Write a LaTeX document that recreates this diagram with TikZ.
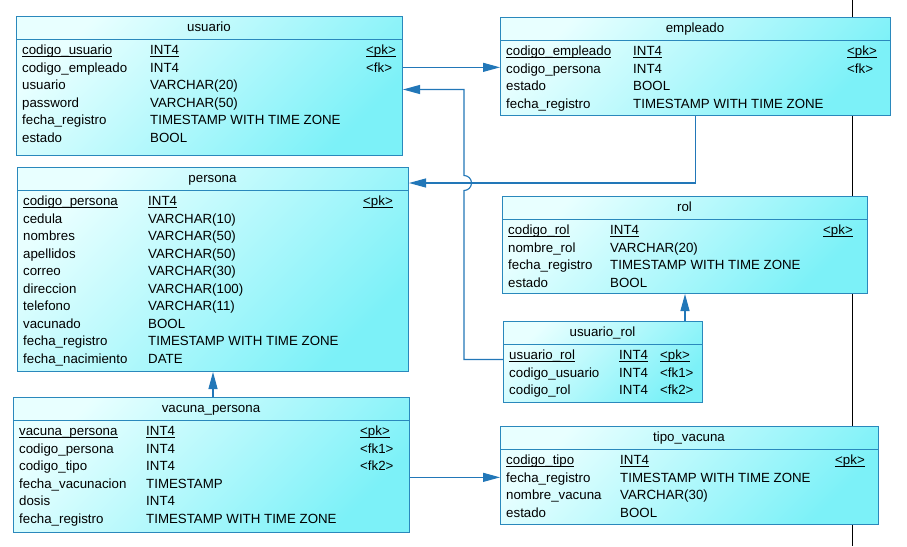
\documentclass[tikz,border=0pt]{standalone}
\usepackage{fontspec}
\setmainfont{Liberation Sans}
\usetikzlibrary{arrows.meta,positioning,calc}

\definecolor{linkblue}{HTML}{2277B8}
\definecolor{boxblue}{HTML}{2A88BC}
\definecolor{boxlight}{HTML}{E8FFFF}
\definecolor{boxcyan}{HTML}{7CF1F8}

\newcommand{\pkey}[1]{$\underline{\smash{\mbox{#1}}}$}

% frame of a table: name, left, top, right, bottom, title
\newcommand{\ertable}[6]{%
  \node[tablebox, minimum width={(#4-#2)*1pt}, minimum height={(#5-#3)*1pt}] (#1) at (#2,#3) {};
  \draw[boxline] (#2,#3+23) -- (#4,#3+23);
  \node[field, anchor=base] (#1-title) at ({(#2+#4)/2},#3+15.5) {#6};
}
% columns of a table: name, left, top, type x, key x, rows
\newcommand{\errows}[6]{%
  \foreach \cname/\ctype/\ckey [count=\i] in {#6} {
    \node[field] (#1-\i) at (#2+6,{#3+38.5+(\i-1)*17.5}) {\cname};
    \node[field] at (#4,{#3+38.5+(\i-1)*17.5}) {\ctype};
    \node[field] at (#5,{#3+38.5+(\i-1)*17.5}) {\ckey};
  }
}

\begin{document}
\begin{tikzpicture}[x=1pt, y=-1pt, font=\fontsize{13.3}{16}\selectfont,
  tablebox/.style={draw=boxblue, line width=1pt, anchor=north west, inner sep=0,
    top color=boxlight, bottom color=boxcyan, shading angle=45},
  boxline/.style={draw=boxblue, line width=1pt},
  field/.style={anchor=base west, inner sep=0, text height=9.3pt, text depth=0pt},
  fk/.style={draw=linkblue, line width=1.1pt, -{Triangle[length=17pt, width=9pt, fill=linkblue]}}]
  \fill[white] (0,0) rectangle (907,546);
  \useasboundingbox (0,0) rectangle (907,546);

  % page edge
  \coordinate (edgetop) at (852,0);
  \coordinate (edgebot) at (852,546);
  \draw[line width=0.8pt] (edgetop) -- (edgebot);

  % Tables
  \ertable{usuario}{16}{16}{402}{155}{usuario}
  \errows{usuario}{16}{16}{150}{366}{
    {\pkey{codigo\_usuario}}/{\pkey{INT4}}/{\pkey{<pk>}},
    codigo\_empleado/INT4/<fk>,
    usuario/VARCHAR(20)/{},
    password/VARCHAR(50)/{},
    fecha\_registro/TIMESTAMP WITH TIME ZONE/{},
    estado/BOOL/{}}

  \ertable{empleado}{500}{17}{890}{115}{empleado}
  \errows{empleado}{500}{17}{633}{847}{
    {\pkey{codigo\_empleado}}/{\pkey{INT4}}/{\pkey{<pk>}},
    codigo\_persona/INT4/<fk>,
    estado/BOOL/{},
    fecha\_registro/TIMESTAMP WITH TIME ZONE/{}}

  \ertable{persona}{17}{167}{408}{371}{persona}
  \errows{persona}{17}{167}{148}{363}{
    {\pkey{codigo\_persona}}/{\pkey{INT4}}/{\pkey{<pk>}},
    cedula/VARCHAR(10)/{},
    nombres/VARCHAR(50)/{},
    apellidos/VARCHAR(50)/{},
    correo/VARCHAR(30)/{},
    direccion/VARCHAR(100)/{},
    telefono/VARCHAR(11)/{},
    vacunado/BOOL/{},
    fecha\_registro/TIMESTAMP WITH TIME ZONE/{},
    fecha\_nacimiento/DATE/{}}

  \ertable{rol}{502}{196}{867}{293}{rol}
  \errows{rol}{502}{196}{610}{823}{
    {\pkey{codigo\_rol}}/{\pkey{INT4}}/{\pkey{<pk>}},
    nombre\_rol/VARCHAR(20)/{},
    fecha\_registro/TIMESTAMP WITH TIME ZONE/{},
    estado/BOOL/{}}

  \ertable{usuario_rol}{503}{321}{702}{402}{usuario\_rol}
  \errows{usuario_rol}{503}{321}{619}{660}{
    {\pkey{usuario\_rol}}/{\pkey{INT4}}/{\pkey{<pk>}},
    codigo\_usuario/INT4/<fk1>,
    codigo\_rol/INT4/<fk2>}

  \ertable{vacuna_persona}{13}{397}{409}{532}{vacuna\_persona}
  \errows{vacuna_persona}{13}{397}{146}{360}{
    {\pkey{vacuna\_persona}}/{\pkey{INT4}}/{\pkey{<pk>}},
    codigo\_persona/INT4/<fk1>,
    codigo\_tipo/INT4/<fk2>,
    fecha\_vacunacion/TIMESTAMP/{},
    dosis/INT4/{},
    fecha\_registro/TIMESTAMP WITH TIME ZONE/{}}

  \ertable{tipo_vacuna}{500}{426}{878}{524}{tipo\_vacuna}
  \errows{tipo_vacuna}{500}{426}{620}{835}{
    {\pkey{codigo\_tipo}}/{\pkey{INT4}}/{\pkey{<pk>}},
    fecha\_registro/TIMESTAMP WITH TIME ZONE/{},
    nombre\_vacuna/VARCHAR(30)/{},
    estado/BOOL/{}}

  % References
  \coordinate (hop) at (464,183);
  \draw[fk] (usuario.east |- usuario-2) -- (empleado.west |- usuario-2);
  \draw[fk] (empleado.south) |- (persona.east |- hop);
  \draw[fk] (usuario_rol.west |- usuario_rol-1.base) -| ([yshift=-7.5pt]hop)
    arc[start angle=-90, end angle=90, radius=7.5pt] |- (usuario.east |- usuario-3.base);
  \draw[fk] (rol.south |- usuario_rol.north) -- (rol.south);
  \draw[fk] (persona.south |- vacuna_persona.north) -- (persona.south);
  \draw[fk] (vacuna_persona.east |- tipo_vacuna-2) -- (tipo_vacuna.west |- tipo_vacuna-2);
\end{tikzpicture}
\end{document}
